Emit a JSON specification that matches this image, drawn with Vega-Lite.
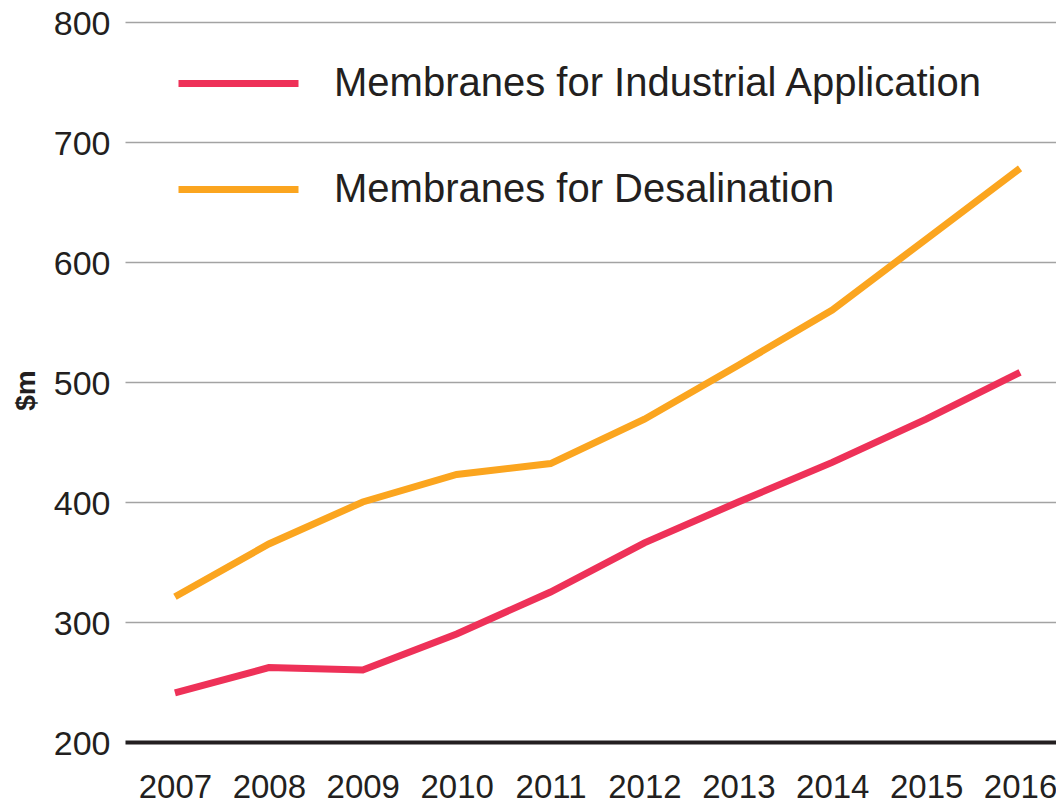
{
  "$schema": "https://vega.github.io/schema/vega-lite/v6.json",
  "width": 931,
  "height": 720,
  "autosize": {"type": "none"},
  "padding": {"left": 125, "top": 22, "right": 0, "bottom": 60},
  "background": "white",
  "config": {
    "view": {"stroke": null},
    "font": "Liberation Sans"
  },
  "data": {
    "values": [
      {"year": 2007, "series": "Membranes for Industrial Application", "value": 241},
      {"year": 2008, "series": "Membranes for Industrial Application", "value": 262},
      {"year": 2009, "series": "Membranes for Industrial Application", "value": 260},
      {"year": 2010, "series": "Membranes for Industrial Application", "value": 290},
      {"year": 2011, "series": "Membranes for Industrial Application", "value": 325},
      {"year": 2012, "series": "Membranes for Industrial Application", "value": 366},
      {"year": 2013, "series": "Membranes for Industrial Application", "value": 400},
      {"year": 2014, "series": "Membranes for Industrial Application", "value": 433},
      {"year": 2015, "series": "Membranes for Industrial Application", "value": 469},
      {"year": 2016, "series": "Membranes for Industrial Application", "value": 508},
      {"year": 2007, "series": "Membranes for Desalination", "value": 321},
      {"year": 2008, "series": "Membranes for Desalination", "value": 365},
      {"year": 2009, "series": "Membranes for Desalination", "value": 400},
      {"year": 2010, "series": "Membranes for Desalination", "value": 423},
      {"year": 2011, "series": "Membranes for Desalination", "value": 432},
      {"year": 2012, "series": "Membranes for Desalination", "value": 469},
      {"year": 2013, "series": "Membranes for Desalination", "value": 514},
      {"year": 2014, "series": "Membranes for Desalination", "value": 560},
      {"year": 2015, "series": "Membranes for Desalination", "value": 619},
      {"year": 2016, "series": "Membranes for Desalination", "value": 678}
    ]
  },
  "mark": {"type": "line", "strokeWidth": 7, "strokeCap": "butt", "strokeJoin": "miter"},
  "encoding": {
    "x": {
      "field": "year",
      "type": "quantitative",
      "scale": {"domain": [2006.468, 2016.383], "nice": false, "zero": false},
      "axis": {
        "values": [2007, 2008, 2009, 2010, 2011, 2012, 2013, 2014, 2015, 2016],
        "format": "d",
        "title": null,
        "grid": false,
        "domain": false,
        "ticks": false,
        "labelFontSize": 33,
        "labelColor": "#231F20",
        "labelPadding": 29,
        "labelFlush": false,
        "labelOverlap": false
      }
    },
    "y": {
      "field": "value",
      "type": "quantitative",
      "scale": {"domain": [200, 800], "nice": false, "zero": false},
      "axis": {
        "values": [200, 300, 400, 500, 600, 700, 800],
        "title": "$m",
        "titleFontSize": 28,
        "titleFontWeight": "bold",
        "titleColor": "#231F20",
        "titleX": -85,
        "titleY": 368,
        "grid": true,
        "gridColor": {"condition": {"test": "datum.value === 200", "value": "#231F20"}, "value": "#A3A3A3"},
        "gridWidth": {"condition": {"test": "datum.value === 200", "value": 4}, "value": 1.5},
        "domain": false,
        "ticks": false,
        "labelFontSize": 34,
        "labelColor": "#231F20",
        "labelPadding": 15,
        "labelOffset": 2
      }
    },
    "color": {
      "field": "series",
      "type": "nominal",
      "sort": ["Membranes for Industrial Application", "Membranes for Desalination"],
      "scale": {
        "domain": ["Membranes for Industrial Application", "Membranes for Desalination"],
        "range": ["#EE3158", "#FBA51F"]
      },
      "legend": {
        "title": null,
        "orient": "none",
        "legendX": 90,
        "legendY": 38,
        "padding": 0,
        "symbolType": "M-3,0H3",
        "symbolSize": 1600,
        "symbolStrokeWidth": 7,
        "labelOffset": 72,
        "labelFontSize": 40,
        "labelColor": "#231F20",
        "labelLimit": 0,
        "rowPadding": 62
      }
    }
  }
}
